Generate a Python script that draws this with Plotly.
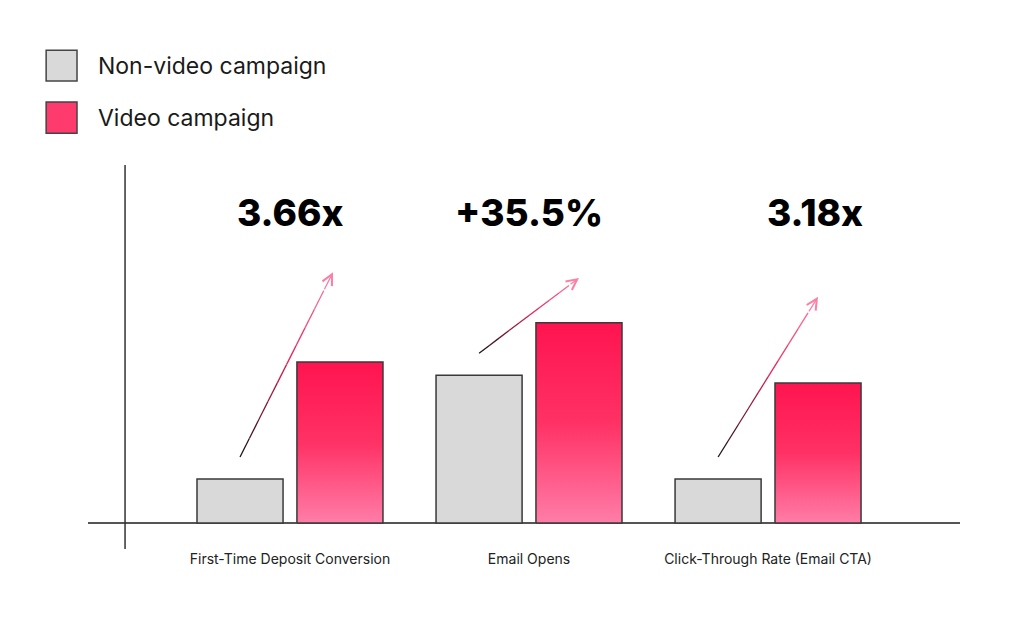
import plotly.graph_objects as go

# ---------------- data ----------------
categories = ["First-Time Deposit Conversion", "Email Opens", "Click-Through Rate (Email CTA)"]
series_names = ["Non-video campaign", "Video campaign"]
non_video = [1.0, 3.36, 1.0]
video = [3.66, 4.55, 3.18]
uplift_labels = ["3.66x", "+35.5%", "3.18x"]

# ---------------- layout constants ----------------
BAR_W = 0.36
GRAY_OFF = -0.389
RED_OFF = 0.029
label_dx = [0.0, 0.0, 0.197]
label_y = 7.05
arrow_tip_dx = [0.18, 0.209, 0.209]
arrow_tip_rise = [2.04, 1.02, 1.96]
arrow_start_lift = 0.5

GRAY = "#D9D9D9"
EDGE = "#3a3a3a"
FONT = "Inter"

fig = go.Figure()

fig.add_trace(go.Bar(
    x=list(range(len(categories))), y=non_video, name=series_names[0],
    width=BAR_W, offset=GRAY_OFF,
    marker=dict(color=GRAY, line=dict(color=EDGE, width=1.5)),
    showlegend=False, hoverinfo="skip",
))

for i, v in enumerate(video):
    x0 = i + RED_OFF
    x1 = x0 + BAR_W
    fig.add_trace(go.Scatter(
        x=[x0, x1, x1, x0, x0], y=[0, 0, v, v, 0],
        mode="lines", fill="toself", name=series_names[1],
        line=dict(color=EDGE, width=1.5),
        fillgradient=dict(type="vertical",
                          colorscale=[[0, "#FF7DA8"], [0.5, "#FF3165"], [1, "#FF1450"]],
                          start=0, stop=v),
        showlegend=False, hoverinfo="skip",
    ))


def lerp(c1, c2, t):
    a = [int(c1[k:k + 2], 16) for k in (1, 3, 5)]
    b = [int(c2[k:k + 2], 16) for k in (1, 3, 5)]
    return "#" + "".join(f"{round(a[j] + (b[j] - a[j]) * t):02x}" for j in range(3))


def grad(t):
    if t < 0.55:
        return lerp("#111111", "#E8245A", t / 0.55)
    return lerp("#E8245A", "#FF8AAE", (t - 0.55) / 0.45)


shapes = []
annotations = []
NSEG = 10
for i in range(len(categories)):
    xs = i + GRAY_OFF + BAR_W / 2
    ys = non_video[i] + arrow_start_lift
    xe = i + arrow_tip_dx[i]
    ye = video[i] + arrow_tip_rise[i]
    for s in range(NSEG):
        t0, t1 = s / NSEG, (s + 1) / NSEG
        col = grad((t0 + t1) / 2)
        ax_ = xs + (xe - xs) * t0
        ay_ = ys + (ye - ys) * t0
        bx_ = xs + (xe - xs) * t1
        by_ = ys + (ye - ys) * t1
        if s < NSEG - 1:
            shapes.append(dict(type="line", xref="x", yref="y", x0=ax_, y0=ay_, x1=bx_, y1=by_,
                               line=dict(color=col, width=1.3)))
        else:
            annotations.append(dict(x=bx_, y=by_, ax=ax_, ay=ay_, xref="x", yref="y",
                                    axref="x", ayref="y", text="", showarrow=True,
                                    arrowhead=5, arrowsize=1.6, arrowwidth=1.3,
                                    arrowcolor=col, standoff=0, startstandoff=0))
    annotations.append(dict(x=i + label_dx[i], y=label_y, xref="x", yref="y",
                            text=uplift_labels[i], showarrow=False,
                            font=dict(family=FONT, size=37, color="#000000", weight=800)))

# vertical axis line
shapes.append(dict(type="line", xref="x", yref="paper", x0=-0.69, x1=-0.69, y0=0, y1=1,
                   line=dict(color="#333333", width=1.5)))

# manual legend
legend_cols = [GRAY, "#FF3A6C"]
legend_y = [(1.299, 1.219), (1.164, 1.083)]
for k, name in enumerate(series_names):
    y1, y0 = legend_y[k]
    shapes.append(dict(type="rect", xref="paper", yref="paper", x0=-0.048, x1=-0.0126,
                       y0=y0, y1=y1, fillcolor=legend_cols[k],
                       line=dict(color="#444444", width=1.5)))
    annotations.append(dict(x=0.009, y=(y0 + y1) / 2, xref="paper", yref="paper",
                            text=name, showarrow=False, xanchor="left", yanchor="middle",
                            font=dict(family=FONT, size=23, color="#1a1a1a")))

fig.update_layout(
    width=1024, height=633,
    margin=dict(l=88, r=64, t=165, b=84),
    paper_bgcolor="white", plot_bgcolor="white",
    shapes=shapes, annotations=annotations,
    showlegend=False,
    xaxis=dict(range=[-0.845, 2.803], tickvals=list(range(len(categories))),
               ticktext=categories, showgrid=False, zeroline=False, showline=False,
               ticks="", tickfont=dict(family=FONT, size=14, color="#222222"),
               fixedrange=True),
    yaxis=dict(range=[-0.59, 8.136], showgrid=False, zeroline=True,
               zerolinecolor="#555555", zerolinewidth=1.5, showticklabels=False,
               fixedrange=True),
)

fig.write_html("out.html")
